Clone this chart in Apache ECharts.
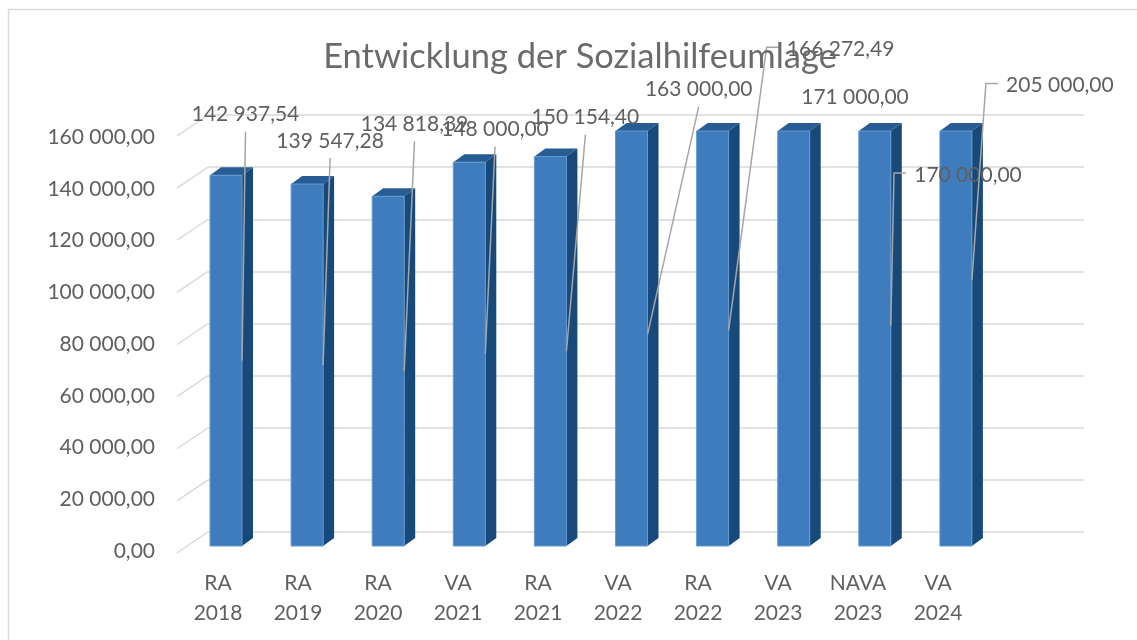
<!DOCTYPE html>
<html>
<head>
<meta charset="utf-8">
<script src="https://cdn.jsdelivr.net/npm/echarts@6/dist/echarts.min.js"></script>
<style>
html,body{margin:0;padding:0;background:#fff;}
#c{width:1137px;height:640px;}
</style>
</head>
<body>
<div id="c"></div>
<script>
// ---- data ----
const categories = ['RA\n2018','RA\n2019','RA\n2020','VA\n2021','RA\n2021','VA\n2022','RA\n2022','VA\n2023','NAVA\n2023','VA\n2024'];
const values = [142937.54, 139547.28, 134818.39, 148000.00, 150154.40, 163000.00, 166272.49, 171000.00, 170000.00, 205000.00];
const yMax = 160000;
const yInterval = 20000;
const yTicks = [0, 20000, 40000, 60000, 80000, 100000, 120000, 140000, 160000];
const titleText = 'Entwicklung der Sozialhilfeumlage';

// ---- label layout (pixel offsets of label centre from leader anchor) ----
const labelDX = [3.5, 7, 10.3, 9.7, 19, 51.2, 112, 45.3, 77.2, 88];
const labelDY = [-246, -224, -246.7, -224.6, -233.8, -245, -281, -226.7, -150.5, -194.6];
const leaderType = ['v','v','v','v','v','v','side','none','side','side'];

const FONT = 'Lato, "Open Sans", sans-serif';
const TXT = '#5f5f5f';

function fmt(v){
  const s = v.toFixed(2).split('.');
  const ip = s[0].replace(/\B(?=(\d{3})+(?!\d))/g, ' ');
  return ip + ',' + s[1];
}

const chart = echarts.init(document.getElementById('c'), null, {renderer:'canvas'});

const barData = values.map((v,i)=>[i, v]);

function renderBar(params, api){
  const i = api.value(0), v = api.value(1);
  const top = api.coord([i, Math.min(v, yMax)]);
  const base = api.coord([i, 0]);
  const cx = top[0];
  const L = cx - 16, R = cx + 16, T = top[1], B = base[1];
  const dx = 11, dy = -8;
  return {
    type:'group',
    children:[
      {type:'polygon', shape:{points:[[L,T],[L+dx,T+dy],[R+dx,T+dy],[R,T]]}, style:{fill:'#285c94'}},
      {type:'polygon', shape:{points:[[R,T],[R+dx,T+dy],[R+dx,B+dy],[R,B]]}, style:{fill:'#174a7a'}},
      {type:'rect', shape:{x:L, y:T, width:R-L, height:B-T}, style:{fill:'#3f7cbd', stroke:'#6499d2', lineWidth:1}}
    ]
  };
}

function renderLabel(params, api){
  const i = api.value(0), v = api.value(1);
  const top = api.coord([i, Math.min(v, yMax)]);
  const mid = api.coord([i, v/2]);
  const ax = top[0] + 16, ay = mid[1];
  const lx = ax + labelDX[i], ly = ay + labelDY[i];
  const children = [];
  const t = leaderType[i];
  const lineStyle = {stroke:'#a6a6a6', lineWidth:1.5, fill:null};
  if (t === 'v') {
    children.push({type:'polyline', shape:{points:[[lx, ly+17],[ax, ay]]}, style:lineStyle});
  } else if (t === 'side') {
    const left = lx - 53;
    children.push({type:'polyline', shape:{points:[[left-9, ly-2],[left-21, ly-2],[ax, ay]]}, style:lineStyle});
  }
  children.push({type:'text', style:{text:fmt(v), x:lx, y:ly, align:'center', verticalAlign:'middle', fill:TXT, fontSize:21, fontFamily:FONT}});
  return {type:'group', children};
}

function renderDiag(params, api){
  const v = api.value(0);
  const back = api.coord([0, v]);
  return {type:'line', shape:{x1:back[0]-31, y1:back[1]+21, x2:back[0], y2:back[1]}, style:{stroke:'#d9d9d9', lineWidth:1.5}};
}

const option = {
  backgroundColor:'#ffffff',
  animation:false,
  title:{
    text:titleText, left:580, textAlign:'center', top:39, padding:0,
    textStyle:{fontFamily:FONT, fontSize:34.5, fontWeight:'normal', color:'#6b6b6b'}
  },
  graphic:[{type:'rect', shape:{x:8.5, y:9.5, width:1140, height:640}, style:{fill:null, stroke:'#d9d9d9', lineWidth:1.5}, z:-10}],
  grid:[
    {left:178, right:159, top:137, bottom:89},          // front label grid
    {left:185.45, right:140.55, top:131, bottom:94},    // bars grid
    {left:208, right:53, top:115, bottom:108}           // back wall grid
  ],
  xAxis:[
    {gridIndex:0, type:'category', data:categories, axisLine:{show:false}, axisTick:{show:false},
     axisLabel:{margin:17, fontFamily:FONT, fontSize:21, color:TXT, lineHeight:30}},
    {gridIndex:1, type:'category', data:categories, show:false},
    {gridIndex:2, type:'value', min:0, max:1, show:false}
  ],
  yAxis:[
    {gridIndex:0, type:'value', min:0, max:yMax, interval:yInterval, axisLine:{show:false}, axisTick:{show:false},
     splitLine:{show:false}, axisLabel:{margin:23, fontFamily:FONT, fontSize:21, color:TXT, formatter:fmt}},
    {gridIndex:1, type:'value', min:0, max:yMax, interval:yInterval, show:false},
    {gridIndex:2, type:'value', min:0, max:yMax, interval:yInterval, axisLine:{show:false}, axisTick:{show:false},
     axisLabel:{show:false}, splitLine:{show:true, lineStyle:{color:'#d9d9d9', width:1.5}}}
  ],
  series:[
    {type:'custom', xAxisIndex:2, yAxisIndex:2, data:yTicks.map(v=>[v]), renderItem:renderDiag, silent:true, z:1},
    {type:'custom', xAxisIndex:1, yAxisIndex:1, data:barData, renderItem:renderBar, z:2, clip:false},
    {type:'custom', xAxisIndex:1, yAxisIndex:1, data:barData, renderItem:renderLabel, z:5, clip:false}
  ]
};
chart.setOption(option);
</script>
</body>
</html>
